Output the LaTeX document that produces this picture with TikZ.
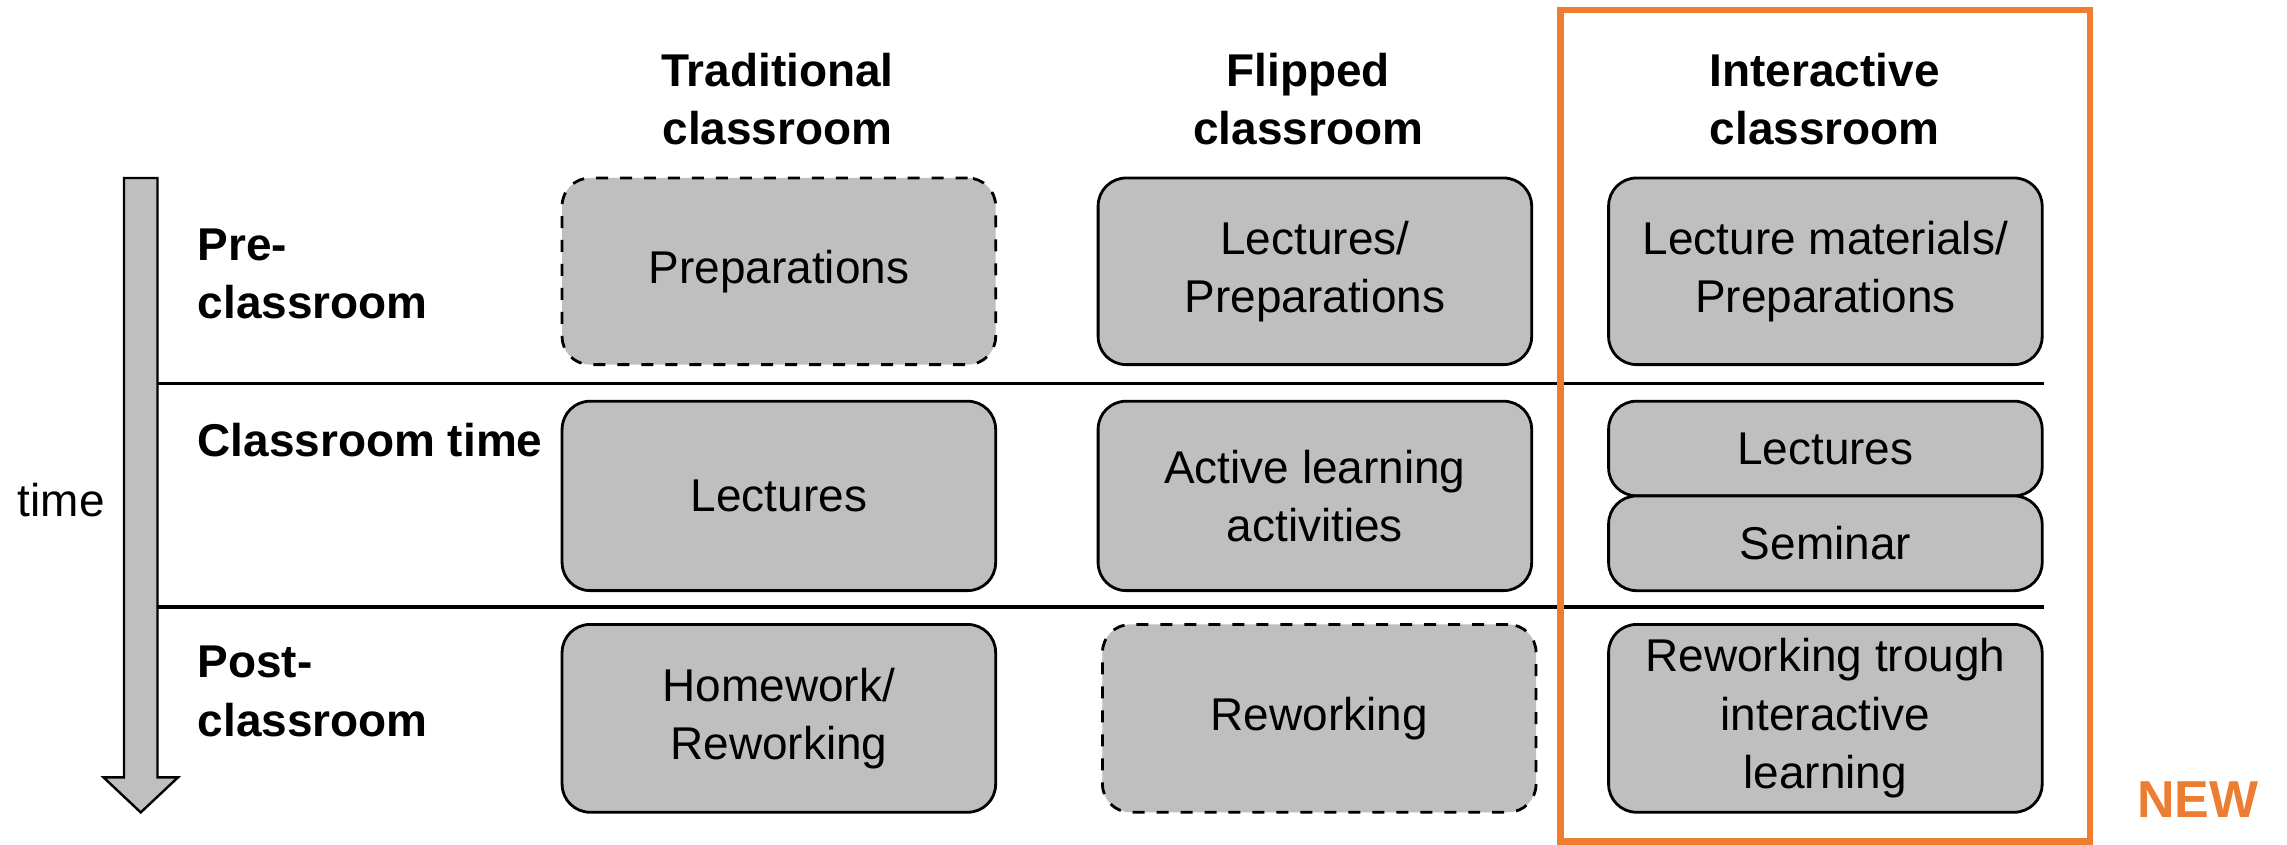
\documentclass[tikz,border=0pt]{standalone}
\usepackage{fontspec}
\setmainfont{Liberation Sans}
\definecolor{neworange}{RGB}{237,125,49}
\begin{document}
\begin{tikzpicture}[x=0.365pt,y=-0.365pt]
        \useasboundingbox (0,0) rectangle (1568,579);
        \begin{scope}[every node/.style={rectangle,rounded corners=7pt,draw,line width=0.7pt,fill=black!25,align=center,font=\fontsize{11.5}{14.6}\selectfont,minimum width=108.5pt,inner sep=0pt}]
            \node[minimum height=46.7pt,dashed] (T1) at (534,186) {Preparations};
            \node[minimum height=47.4pt] (T2) at (534,340) {Lectures};
            \node[minimum height=47pt] (T3) at (534,492.5) {Homework/\\Reworking};
            \node[minimum height=46.7pt] (F1) at (901.5,186) {Lectures/\\Preparations};
            \node[minimum height=47.4pt] (F2) at (901.5,340) {Active learning\\activities};
            \node[minimum height=47pt,dashed] (F3) at (904.5,492.5) {Reworking};
            \node[minimum height=46.7pt] (I1) at (1251.5,186) {Lecture materials/\\Preparations};
            \node[minimum height=23.7pt] (I21) at (1251.5,307.5) {Lectures};
            \node[minimum height=23.7pt] (I22) at (1251.5,372.5) {Seminar};
            \node[minimum height=47pt] (I3) at (1251.5,492.5) {Reworking trough\\interactive\\learning};
        \end{scope}
        \begin{scope}[every node/.style={align=center,font=\fontsize{11.5}{14.6}\selectfont\bfseries,inner sep=0pt}]
            \node (H1) at (533,68) {Traditional\\classroom};
            \node (H2) at (897,68) {Flipped\\classroom};
            \node (H3) at (1251,68) {Interactive\\classroom};
            \node[anchor=west,align=left] (R1) at (135,188) {Pre-\\classroom};
            \node[anchor=west,align=left] (R2) at (135,302) {Classroom time};
            \node[anchor=west,align=left] (R3) at (135,474) {Post-\\classroom};
        \end{scope}
            \node[font=\fontsize{11.5}{14.6}\selectfont,inner sep=0pt] (time) at (42,343) {time};
            \node[font=\fontsize{13}{15}\selectfont\bfseries,text=neworange,inner sep=0pt] (new) at (1507,548) {NEW};
            % time arrow
            \draw[fill=black!25,line width=0.6pt] (85,122) -- (108,122) -- (108,533) -- (122,533) -- (96.5,557) -- (71,533) -- (85,533) -- cycle;
        \begin{scope}[line width=0.9pt]
            \draw (108,263) -- (I1.east |- 0,263);
            \draw (108,416) -- (I3.east |- 0,416);
        \end{scope}
            \draw[neworange,line width=1.6pt] (1070,7) rectangle (1433,577);
    \end{tikzpicture}
\end{document}
